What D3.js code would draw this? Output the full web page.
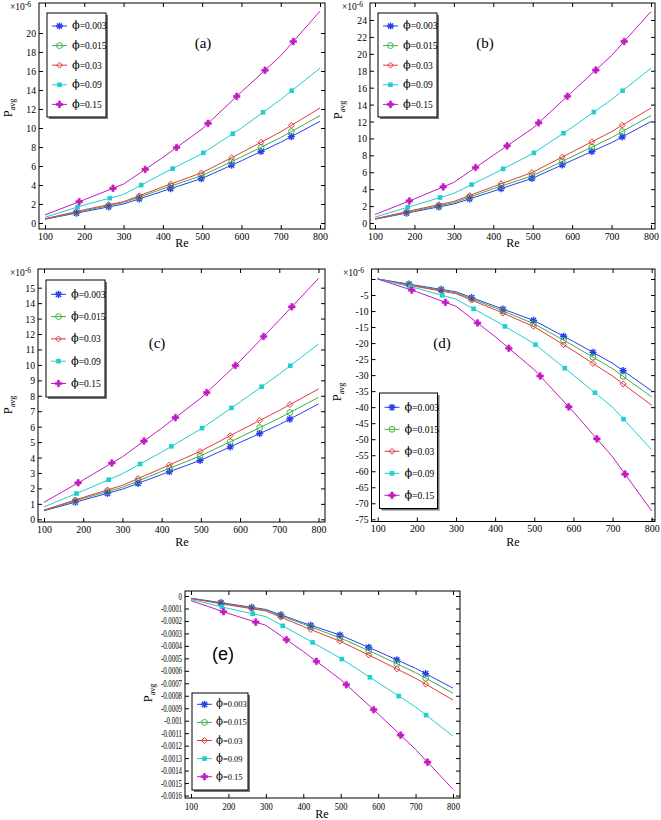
<!DOCTYPE html>
<html><head><meta charset="utf-8">
<script src="https://cdn.jsdelivr.net/npm/d3@7"></script>
<style>body{margin:0;background:#fff} svg{display:block} text{font-family:"Liberation Serif","DejaVu Serif",serif;}</style>
</head><body>
<svg id="c" width="661" height="820"></svg>
<script>
// ---------- DATA ----------
const reGrid = [100, 200, 300, 400, 500, 600, 700, 800];
const xTicks = [100, 200, 300, 400, 500, 600, 700, 800];
const phiNames = ["0.003", "0.015", "0.03", "0.09", "0.15"];
// Re positions where markers are drawn on each series
const markRe = [
  [180, 262, 340, 420, 498, 575, 650, 727],
  [180, 262, 340, 420, 498, 575, 650, 727],
  [180, 262, 340, 420, 498, 575, 650, 727],
  [183, 265, 345, 425, 503, 578, 655, 728],
  [187, 273, 355, 435, 515, 588, 660, 732]
];
// (a) values x10^-6
const a003 = [0.4, 1.2, 2.0, 3.35, 4.7, 6.55, 8.5, 10.7];
const a015 = [0.42, 1.3, 2.15, 3.6, 5.0, 6.95, 9.0, 11.3];
const a03  = [0.45, 1.4, 2.25, 3.8, 5.3, 7.4, 9.6, 12.1];
const a09  = [0.6, 1.9, 3.0, 5.2, 7.3, 10.0, 13.0, 16.3];
const a15  = [0.85, 2.45, 4.1, 6.9, 9.9, 13.8, 17.6, 22.3];
// (b) values x10^-6
const b003 = [0.45, 1.35, 2.25, 3.75, 5.3, 7.4, 9.5, 12.0];
const b015 = [0.48, 1.45, 2.4, 4.05, 5.6, 7.85, 10.1, 12.7];
const b03  = [0.5, 1.55, 2.55, 4.3, 6.0, 8.4, 10.8, 13.6];
const b09  = [0.7, 2.1, 3.5, 5.8, 8.2, 11.3, 14.6, 18.3];
const b15  = [1.0, 2.85, 4.8, 8.0, 11.2, 15.5, 19.8, 25.0];
// (c) values x10^-6
const c003 = [0.55, 1.25, 1.95, 2.9, 3.83, 4.98, 6.13, 7.47];
const c015 = [0.57, 1.35, 2.07, 3.1, 4.12, 5.32, 6.55, 7.9];
const c03  = [0.6, 1.42, 2.2, 3.3, 4.42, 5.75, 7.05, 8.44];
const c09  = [0.8, 1.85, 2.95, 4.35, 5.85, 7.6, 9.4, 11.35];
const c15  = [1.1, 2.55, 4.05, 5.9, 7.85, 10.25, 12.9, 15.6];
// (d) values x10^-6
const d003 = [0, -2.0, -4.0, -8.5, -13.0, -19.5, -26.3, -34.9];
const d015 = [0, -2.2, -4.3, -9.0, -14.0, -20.8, -28.0, -36.8];
const d03  = [0, -2.4, -4.6, -9.6, -14.9, -22.4, -30.3, -39.4];
const d09  = [0, -2.9, -6.3, -13.0, -20.2, -30.0, -40.0, -53.3];
const d15  = [0, -4.0, -8.5, -18.0, -28.3, -41.5, -55.5, -72.4];
// (e) values
const e003 = [-0.18e-4, -0.62e-4, -1.08e-4, -2.15e-4, -3.15e-4, -4.45e-4, -5.8e-4, -7.39e-4];
const e015 = [-0.2e-4, -0.68e-4, -1.13e-4, -2.25e-4, -3.38e-4, -4.72e-4, -6.15e-4, -7.79e-4];
const e03  = [-0.2e-4, -0.72e-4, -1.2e-4, -2.45e-4, -3.65e-4, -5.1e-4, -6.6e-4, -8.34e-4];
const e09  = [-0.27e-4, -1.0e-4, -1.65e-4, -3.3e-4, -5.0e-4, -6.95e-4, -8.9e-4, -11.23e-4];
const e15  = [-0.37e-4, -1.4e-4, -2.35e-4, -4.45e-4, -6.7e-4, -9.45e-4, -12.3e-4, -15.5e-4];
// tick labels
const aYTicks = [0, 2, 4, 6, 8, 10, 12, 14, 16, 18, 20];
const bYTicks = [0, 2, 4, 6, 8, 10, 12, 14, 16, 18, 20, 22, 24];
const cYTicks = [0, 1, 2, 3, 4, 5, 6, 7, 8, 9, 10, 11, 12, 13, 14, 15];
const dYTicks = [0, -5, -10, -15, -20, -25, -30, -35, -40, -45, -50, -55, -60, -65, -70, -75];
const dYLabels = ["", "-5", "-10", "-15", "-20", "-25", "-30", "-35", "-40", "-45", "-50", "-55", "-60", "-65", "-70", "-75"];
const eYTicks = [0, -1e-4, -2e-4, -3e-4, -4e-4, -5e-4, -6e-4, -7e-4, -8e-4, -9e-4, -10e-4, -11e-4, -12e-4, -13e-4, -14e-4, -15e-4, -16e-4];
const eYLabels = ["0", "-0.0001", "-0.0002", "-0.0003", "-0.0004", "-0.0005", "-0.0006", "-0.0007", "-0.0008", "-0.0009", "-0.001", "-0.0011", "-0.0012", "-0.0013", "-0.0014", "-0.0015", "-0.0016"];

// ---------- STYLE ----------
const colors = ["#2a3ef2", "#3cb043", "#e43a3a", "#1fcfcf", "#c21ac2"];
const SERIF = '"Liberation Serif","DejaVu Serif",serif';
const svg = d3.select("#c");

function squeezeText(sel, f) {
  sel.each(function () {
    const w = this.getComputedTextLength();
    if (w > 0) d3.select(this).attr("textLength", w * f).attr("lengthAdjust", "spacingAndGlyphs");
  });
}

function marker(g, i, x, y) {
  const c = colors[i];
  if (i === 0) {
    const r = 3.6;
    const p = `M${x - r},${y}L${x + r},${y}M${x},${y - r}L${x},${y + r}` +
      `M${x - r * 0.72},${y - r * 0.72}L${x + r * 0.72},${y + r * 0.72}M${x - r * 0.72},${y + r * 0.72}L${x + r * 0.72},${y - r * 0.72}`;
    g.append("path").attr("d", p).attr("stroke", c).attr("stroke-width", 1.4).attr("fill", "none");
  } else if (i === 1) {
    g.append("circle").attr("cx", x).attr("cy", y).attr("r", 2.9)
      .attr("fill", "none").attr("stroke", c).attr("stroke-width", 1);
  } else if (i === 2) {
    g.append("path").attr("d", d3.symbol(d3.symbolDiamond2, 22)())
      .attr("transform", `translate(${x},${y})`).attr("fill", "none").attr("stroke", c).attr("stroke-width", 1);
  } else if (i === 3) {
    const h = 2.3;
    g.append("rect").attr("x", x - h).attr("y", y - h).attr("width", 2 * h).attr("height", 2 * h).attr("fill", c);
  } else {
    g.append("path").attr("d", d3.symbol(d3.symbolCross, 24)())
      .attr("transform", `translate(${x},${y})`).attr("fill", c).attr("stroke", c).attr("stroke-width", 0.6);
  }
}

function drawPanel(cfg) {
  const g = svg.append("g");
  const F = cfg.frame;
  const x = d3.scaleLinear().domain([100, 800]).range(cfg.xr);
  const y = d3.scaleLinear().domain(cfg.yd).range(cfg.yr);
  const id = "clip" + cfg.name;
  svg.append("clipPath").attr("id", id).append("rect")
    .attr("x", F.l).attr("y", F.t).attr("width", F.r - F.l).attr("height", F.b - F.t);

  g.append("rect").attr("x", F.l).attr("y", F.t).attr("width", F.r - F.l).attr("height", F.b - F.t)
    .attr("fill", "#fff").attr("stroke", "#000").attr("stroke-width", 1);

  const tl = 4;
  const axB = d3.axisBottom(x).tickValues(xTicks).tickSize(tl).tickFormat(d3.format("d"));
  const xb = g.append("g").attr("transform", `translate(0,${F.b})`).call(axB);
  xb.selectAll(".tick line").attr("y2", -tl);
  xb.selectAll(".tick text").attr("y", cfg.xLabOff || 3).attr("dy", "0.71em");
  const xt = g.append("g").attr("transform", `translate(0,${F.t})`).call(d3.axisTop(x).tickValues(xTicks).tickSize(tl).tickFormat(""));
  xt.selectAll(".tick line").attr("y2", tl);

  const labs = cfg.yLabels;
  const axL = d3.axisLeft(y).tickValues(cfg.yTicks).tickSize(tl)
    .tickFormat((d, i) => labs ? labs[i] : String(d));
  const yl = g.append("g").attr("transform", `translate(${F.l},0)`).call(axL);
  yl.selectAll(".tick line").attr("x2", tl);
  yl.selectAll(".tick text").attr("x", -3);
  const yr = g.append("g").attr("transform", `translate(${F.r},0)`).call(d3.axisRight(y).tickValues(cfg.yTicks).tickSize(tl).tickFormat(""));
  yr.selectAll(".tick line").attr("x2", -tl);

  [xb, xt, yl, yr].forEach(a => {
    a.attr("font-family", null).attr("font-size", null);
    a.select(".domain").remove();
    a.selectAll("text").style("font-family", SERIF).style("font-size", cfg.tickFont + "px").attr("fill", "#000");
    a.selectAll("line").attr("stroke", "#000");
  });
  squeezeText(yl.selectAll(".tick text"), cfg.squeeze);
  squeezeText(xb.selectAll(".tick text"), 0.9);

  const plot = g.append("g").attr("clip-path", `url(#${id})`);
  const line = d3.line().x((d, i) => x(reGrid[i])).y(d => y(d));
  cfg.series.forEach((vals, i) => {
    plot.append("path").attr("d", line(vals)).attr("fill", "none")
      .attr("stroke", colors[i]).attr("stroke-width", 1);
  });
  cfg.series.forEach((vals, i) => {
    const on = d3.scaleLinear().domain(reGrid).range(vals);
    markRe[i].forEach(r => marker(plot, i, x(r), y(on(r))));
  });

  if (cfg.exp) {
    const t = g.append("text").attr("x", cfg.exp[0]).attr("y", cfg.exp[1]).style("font-size", "9.5px");
    t.append("tspan").text("×10");
    t.append("tspan").attr("dy", -3.5).style("font-size", "7.5px").text("-6");
  }

  g.append("text").attr("x", cfg.reXY[0]).attr("y", cfg.reXY[1]).attr("text-anchor", "middle")
    .style("font-size", "12px").text("Re");
  const pl = g.append("text").attr("transform", `translate(${cfg.pXY[0]},${cfg.pXY[1]}) rotate(-90)`)
    .attr("text-anchor", "middle").style("font-size", "12.5px");
  pl.append("tspan").text("P");
  pl.append("tspan").attr("dy", 2.5).style("font-size", "8px").text("avg");

  g.append("text").attr("x", cfg.title[0]).attr("y", cfg.title[1]).attr("text-anchor", "middle")
    .style("font-family", cfg.titleFont).style("font-size", cfg.titleSize + "px").text("(" + cfg.name + ")");

  const L = cfg.legend;
  g.append("rect").attr("x", L.x + 2).attr("y", L.y + 2).attr("width", L.w).attr("height", L.h).attr("fill", "#777");
  g.append("rect").attr("x", L.x).attr("y", L.y).attr("width", L.w).attr("height", L.h)
    .attr("fill", "#fff").attr("stroke", "#000").attr("stroke-width", 1);
  phiNames.forEach((nm, i) => {
    const yy = L.y0 + L.dy * i;
    g.append("line").attr("x1", L.x + L.l1).attr("x2", L.x + L.l2).attr("y1", yy).attr("y2", yy)
      .attr("stroke", colors[i]).attr("stroke-width", 1);
    marker(g, i, L.x + (L.l1 + L.l2) / 2, yy);
    const t = g.append("text").attr("x", L.x + L.tx).attr("y", yy + L.fs * 0.36)
      .style("font-size", L.fs + "px");
    t.append("tspan").style("font-family", '"DejaVu Serif",serif').style("font-size", (L.fs * 1.2) + "px").text("ϕ");
    t.append("tspan").text("=" + nm);
  });
}

const legendStd = {l1: 5, l2: 20, tx: 25, fs: 9.5};

drawPanel({
  name: "a", frame: {l: 39, t: 3, r: 325, b: 229}, xr: [45, 320], yd: [0, 20], yr: [223, 33],
  yTicks: aYTicks, tickFont: 11, squeeze: 0.88, exp: [10, 10], reXY: [182, 247], pXY: [12, 108],
  title: [203, 48], titleFont: SERIF, titleSize: 15,
  series: [a003, a015, a03, a09, a15],
  legend: Object.assign({x: 47, y: 13, w: 59, h: 104, y0: 26, dy: 19.6}, legendStd)
});
drawPanel({
  name: "b", frame: {l: 370, t: 3, r: 655, b: 229}, xr: [375, 651], yd: [0, 24], yr: [223, 20],
  yTicks: bYTicks, tickFont: 11, squeeze: 0.88, exp: [342, 10], reXY: [513, 247], pXY: [342, 110],
  title: [485, 48], titleFont: SERIF, titleSize: 15,
  series: [b003, b015, b03, b09, b15],
  legend: Object.assign({x: 378, y: 13, w: 59, h: 104, y0: 26, dy: 19.6}, legendStd)
});
drawPanel({
  name: "c", frame: {l: 38, t: 269, r: 325, b: 522}, xr: [44, 318.5], yd: [0, 15], yr: [519.3, 287.7],
  yTicks: cYTicks, tickFont: 11, squeeze: 0.88, exp: [10, 276], reXY: [182, 546], pXY: [12, 405],
  title: [157, 348], titleFont: SERIF, titleSize: 15,
  series: [c003, c015, c03, c09, c15],
  legend: Object.assign({x: 46, y: 280, w: 59, h: 117, y0: 294.3, dy: 22.3}, legendStd)
});
drawPanel({
  name: "d", frame: {l: 371.5, t: 269, r: 655, b: 521.5}, xr: [377.7, 651.7], yd: [0, -75], yr: [279, 519.3],
  yTicks: dYTicks, yLabels: dYLabels, tickFont: 11, squeeze: 0.88, exp: [343, 276], reXY: [513, 546], pXY: [341, 392],
  title: [442, 348], titleFont: SERIF, titleSize: 15,
  series: [d003, d015, d03, d09, d15],
  legend: Object.assign({x: 379.5, y: 393, w: 58, h: 115.5, y0: 407.3, dy: 22}, legendStd)
});
drawPanel({
  name: "e", frame: {l: 185, t: 591, r: 460, b: 798}, xr: [191, 453], yd: [0, -16e-4], yr: [596, 795.5],
  yTicks: eYTicks, yLabels: eYLabels, tickFont: 9.5, squeeze: 0.72, xLabOff: 5, exp: null, reXY: [322, 818], pXY: [152, 693],
  title: [223, 660], titleFont: '"Liberation Sans",Arial,sans-serif', titleSize: 18,
  series: [e003, e015, e03, e09, e15],
  legend: {x: 192, y: 693, w: 56, h: 97, y0: 704.3, dy: 18.1, l1: 5, l2: 20, tx: 24, fs: 8.5}
});
</script>
</body></html>
